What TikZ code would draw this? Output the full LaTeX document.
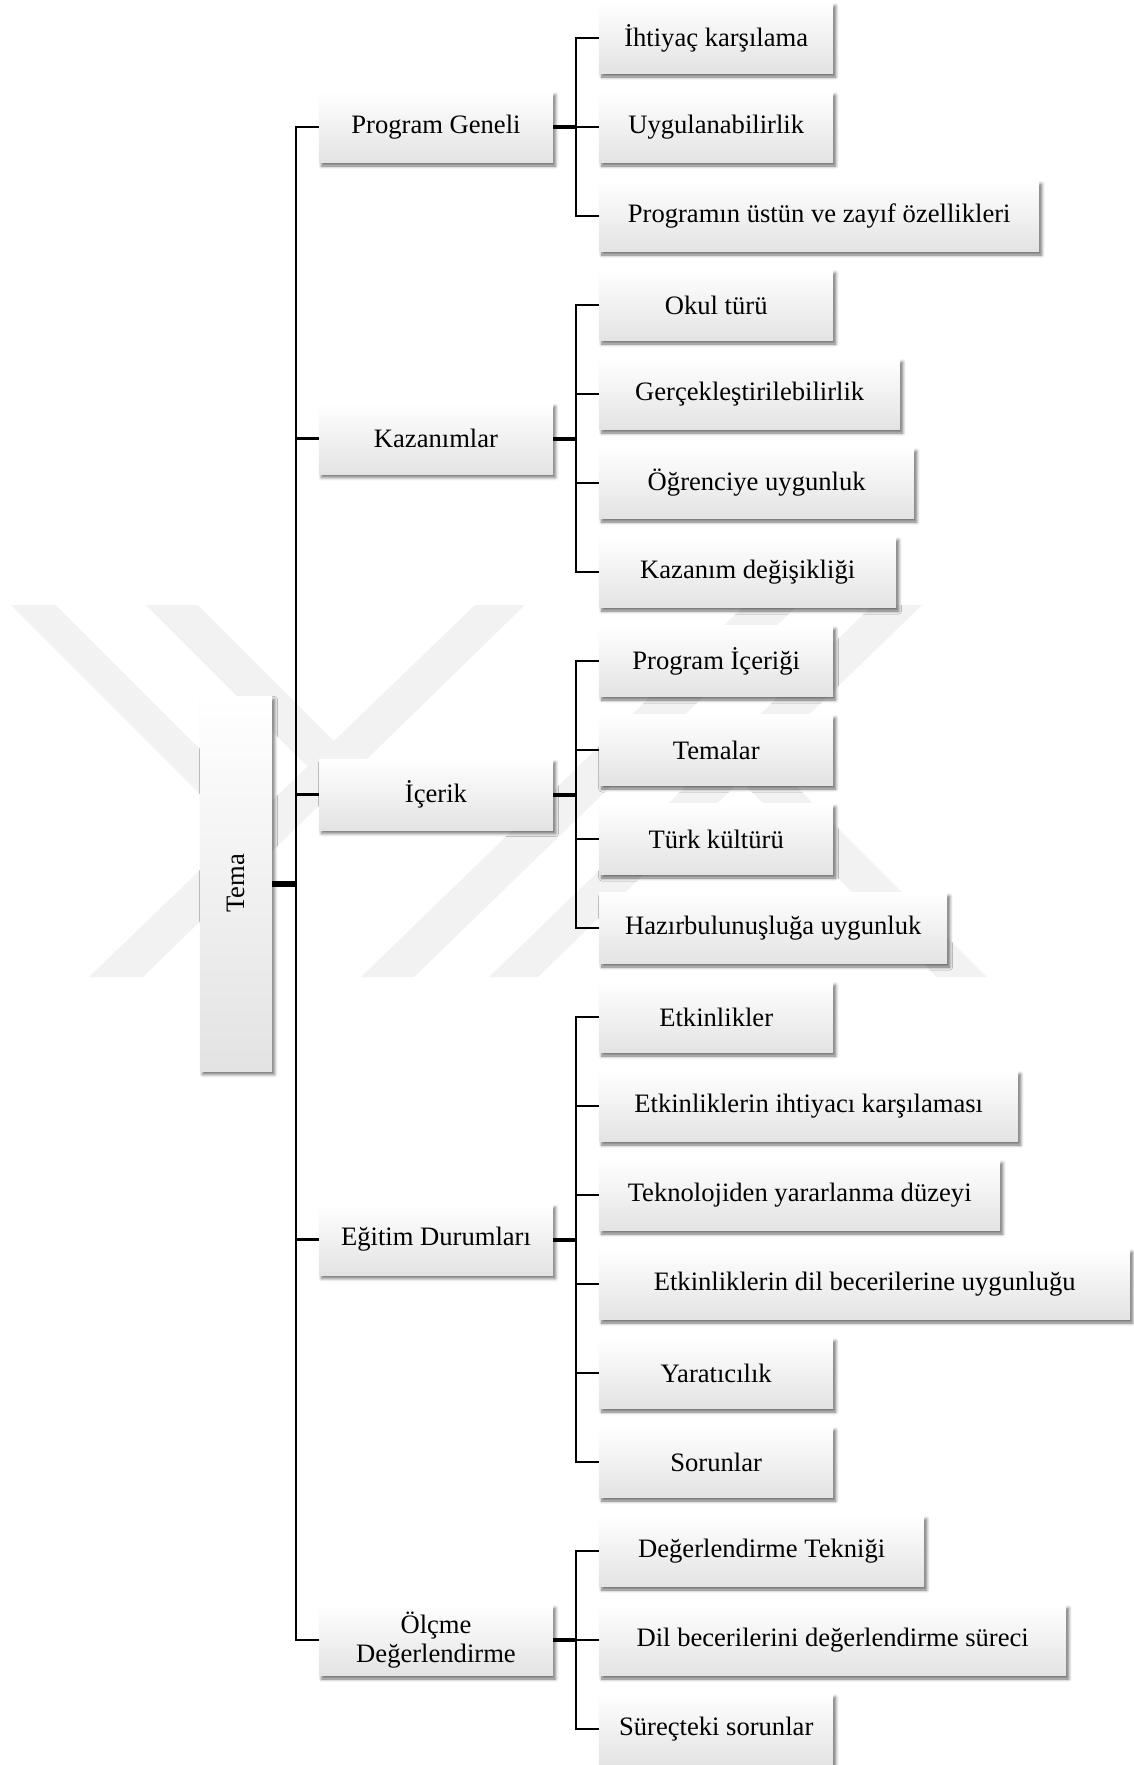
\documentclass[tikz,border=0pt]{standalone}
\usepackage{fontspec}
\setmainfont{Liberation Serif}
\usepackage{graphicx}
\usetikzlibrary{shadows.blur}
\begin{document}
\begin{tikzpicture}[x=1pt,y=-1pt,
  wm/.style={fill=black!5,draw=none},
  box/.style={rectangle, draw=none, top color=white, middle color=white, bottom color=black!11,
    minimum height=71pt, inner xsep=0pt, inner ysep=0pt, align=center,
    font=\fontsize{26.6}{29}\selectfont,
    blur shadow={shadow xshift=2.5pt, shadow yshift=-3.5pt, shadow blur radius=3pt, shadow opacity=55}},
  lvone/.style={box, minimum width=234pt},
  lvtwo/.style={box, anchor=west},
  conn/.style={line width=2.4pt, line join=miter},
  pconn/.style={line width=4pt},
  tconn/.style={line width=6pt}]
\useasboundingbox (0,0) rectangle (1134,1765);
% watermark
\fill[wm] (11,605) -- (56,605) -- (286,835) -- (241,835) -- cycle;
\fill[wm] (146,605) -- (198,605) -- (359,766) -- (307,766) -- cycle;
\fill[wm] (89,977) -- (143,977) -- (525,605) -- (475,605) -- cycle;
\fill[wm] (361,977) -- (414,977) -- (798,605) -- (745,605) -- cycle;
\fill[wm] (489,977) -- (538,977) -- (922,605) -- (873,605) -- cycle;
\fill[wm] (716,756) -- (766,756) -- (987,977) -- (937,977) -- cycle;

% root
\node[box, minimum width=72pt, minimum height=375pt] (tema) at (236,883.5) {\rotatebox{90}{Tema}};

% level 1
\node[lvone] (pg) at (436,127) {Program Geneli};
\node[lvone] (kz) at (436,438.5) {Kazanımlar};
\node[lvone] (ic) at (436,794.5) {İçerik};
\node[lvone] (ed) at (436,1239.5) {Eğitim Durumları};
\node[lvone] (od) at (436,1640) {Ölçme\\Değerlendirme};

% level 2
\node[lvtwo, minimum width=234pt] (c0) at (599,38) {İhtiyaç karşılama};
\node[lvtwo, minimum width=234pt] (c1) at (599,127) {Uygulanabilirlik};
\node[lvtwo, minimum width=440pt] (c2) at (599,216) {Programın üstün ve zayıf özellikleri};
\node[lvtwo, minimum width=234pt] (c3) at (599,305) {Okul türü};
\node[lvtwo, minimum width=301pt] (c4) at (599,394) {Gerçekleştirilebilirlik};
\node[lvtwo, minimum width=315pt] (c5) at (599,483) {Öğrenciye uygunluk};
\node[lvtwo, minimum width=297pt] (c6) at (599,572) {Kazanım değişikliği};
\node[lvtwo, minimum width=234pt] (c7) at (599,661) {Program İçeriği};
\node[lvtwo, minimum width=234pt] (c8) at (599,750) {Temalar};
\node[lvtwo, minimum width=234pt] (c9) at (599,839) {Türk kültürü};
\node[lvtwo, minimum width=348pt] (c10) at (599,928) {Hazırbulunuşluğa uygunluk};
\node[lvtwo, minimum width=234pt] (c11) at (599,1017) {Etkinlikler};
\node[lvtwo, minimum width=419pt] (c12) at (599,1106) {Etkinliklerin ihtiyacı karşılaması};
\node[lvtwo, minimum width=401pt] (c13) at (599,1195) {Teknolojiden yararlanma düzeyi};
\node[lvtwo, minimum width=531pt] (c14) at (599,1284) {Etkinliklerin dil becerilerine uygunluğu};
\node[lvtwo, minimum width=234pt] (c15) at (599,1373) {Yaratıcılık};
\node[lvtwo, minimum width=234pt] (c16) at (599,1462) {Sorunlar};
\node[lvtwo, minimum width=325pt] (c17) at (599,1551) {Değerlendirme Tekniği};
\node[lvtwo, minimum width=467pt] (c18) at (599,1640) {Dil becerilerini değerlendirme süreci};
\node[lvtwo, minimum width=234pt] (c19) at (599,1729) {Süreçteki sorunlar};

% connectors root -> level 1
\draw[tconn] (tema.east) -- ++(24,0);
\draw[conn] (pg.west) -- ++(-23,0) |- (od.west);
\foreach \n in {kz,ic,ed} \draw[conn] (\n.west) -- ++(-23,0);

% connectors level 1 -> level 2
\foreach \p in {pg,kz,ic,ed,od} \draw[pconn] (\p.east) -- ++(23,0);
\draw[conn] (c0.west) -- ++(-23,0) |- (c2.west);
\draw[conn] (c1.west) -- ++(-23,0);
\draw[conn] (c3.west) -- ++(-23,0) |- (c6.west);
\foreach \n in {c4,c5} \draw[conn] (\n.west) -- ++(-23,0);
\draw[conn] (c7.west) -- ++(-23,0) |- (c10.west);
\foreach \n in {c8,c9} \draw[conn] (\n.west) -- ++(-23,0);
\draw[conn] (c11.west) -- ++(-23,0) |- (c16.west);
\foreach \n in {c12,c13,c14,c15} \draw[conn] (\n.west) -- ++(-23,0);
\draw[conn] (c17.west) -- ++(-23,0) |- (c19.west);
\draw[conn] (c18.west) -- ++(-23,0);
\end{tikzpicture}
\end{document}
